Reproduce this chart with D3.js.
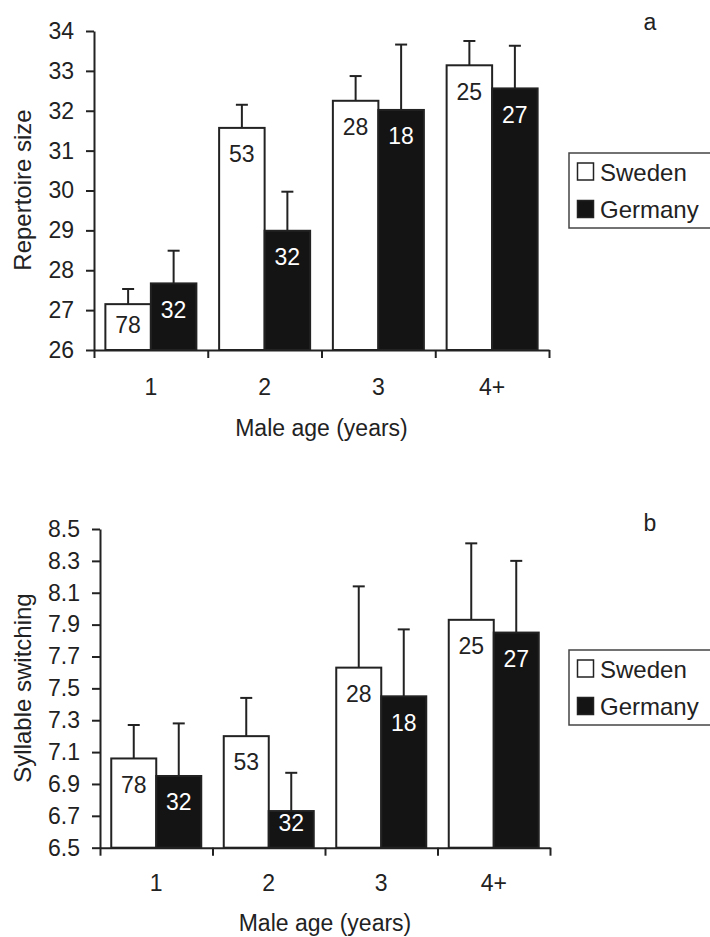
<!DOCTYPE html>
<html><head><meta charset="utf-8">
<script src="https://cdn.jsdelivr.net/npm/d3@7"></script>
<style>
body{margin:0;background:#fff}
svg{display:block}
text{font-family:"Liberation Sans",Arial,Helvetica,sans-serif;fill:#222}
</style>
</head><body>
<svg id="chart" width="710" height="937"></svg>
<script>
// ---------- data ----------
const categories = ["1", "2", "3", "4+"];
const seriesNames = ["Sweden", "Germany"];
const sampleSweden = [78, 53, 28, 25];
const sampleGermany = [32, 32, 18, 27];

// panel a: repertoire size
const repertoireSweden = [27.15, 31.57, 32.25, 33.14];
const repertoireSwedenErr = [0.38, 0.58, 0.62, 0.61];
const repertoireGermany = [27.67, 28.99, 32.02, 32.56];
const repertoireGermanyErr = [0.82, 0.98, 1.64, 1.07];
const repertoireTicks = [26, 27, 28, 29, 30, 31, 32, 33, 34];

// panel b: syllable switching
const switchingSweden = [7.06, 7.20, 7.63, 7.93];
const switchingSwedenErr = [0.21, 0.24, 0.51, 0.48];
const switchingGermany = [6.95, 6.73, 7.45, 7.85];
const switchingGermanyErr = [0.33, 0.24, 0.42, 0.45];
const switchingTicks = [6.5, 6.7, 6.9, 7.1, 7.3, 7.5, 7.7, 7.9, 8.1, 8.3, 8.5];

const xTitle = "Male age (years)";

// ---------- drawing ----------
const svg = d3.select("#chart");
svg.append("rect").attr("width", 710).attr("height", 937).attr("fill", "#fff");

const FS = 23;
const INK = "#222";

function panel(opt) {
  const g = svg.append("g");
  const y = d3.scaleLinear().domain(opt.domain).range([opt.bottom, opt.top]);
  const x = d3.scaleBand().domain(categories).range([opt.left, opt.right])
    .paddingInner(0.2).paddingOuter(0.1);
  const xs = d3.scaleBand().domain(seriesNames).range([0, x.bandwidth()]);
  const bounds = d3.scaleLinear().domain([0, categories.length]).range([opt.left, opt.right]);

  const rows = [];
  categories.forEach((c, i) => {
    rows.push({c, s: "Sweden", v: opt.sw[i], e: opt.swErr[i], n: sampleSweden[i]});
    rows.push({c, s: "Germany", v: opt.ge[i], e: opt.geErr[i], n: sampleGermany[i]});
  });

  // error bars (behind bars)
  const eb = g.append("g").attr("stroke", INK).attr("stroke-width", 2);
  rows.forEach(d => {
    const cx = x(d.c) + xs(d.s) + xs.bandwidth() / 2;
    eb.append("line").attr("x1", cx).attr("x2", cx).attr("y1", y(d.v)).attr("y2", y(d.v + d.e));
    eb.append("line").attr("x1", cx - 6).attr("x2", cx + 6).attr("y1", y(d.v + d.e)).attr("y2", y(d.v + d.e));
  });

  // bars
  g.append("g").selectAll("rect").data(rows).join("rect")
    .attr("x", d => x(d.c) + xs(d.s))
    .attr("y", d => y(d.v))
    .attr("width", xs.bandwidth())
    .attr("height", d => y(opt.domain[0]) - y(d.v))
    .attr("fill", d => d.s === "Sweden" ? "#fff" : "#141414")
    .attr("stroke", INK).attr("stroke-width", 2);

  // sample size labels
  g.append("g").selectAll("text").data(rows).join("text")
    .attr("x", d => x(d.c) + xs(d.s) + xs.bandwidth() / 2)
    .attr("y", d => Math.min(y(d.v) + 26, y(opt.domain[0]) - 25))
    .attr("dy", "0.36em")
    .attr("text-anchor", "middle")
    .attr("font-size", FS)
    .style("fill", d => d.s === "Sweden" ? INK : "#fff")
    .text(d => d.n);

  // y axis
  const ya = g.append("g").attr("transform", `translate(${opt.left},0)`)
    .call(d3.axisLeft(y).tickValues(opt.ticks).tickFormat(opt.fmt)
      .tickSize(8).tickPadding(12).tickSizeOuter(0));
  ya.selectAll("text").attr("font-size", FS).attr("font-family", null).style("fill", INK);
  ya.selectAll("line,path").attr("stroke", INK).attr("stroke-width", 2);

  // x axis: boundary ticks + category labels
  const xb = g.append("g").attr("transform", `translate(0,${opt.bottom})`)
    .call(d3.axisBottom(bounds).tickValues(d3.range(categories.length + 1))
      .tickFormat("").tickSize(8).tickSizeOuter(0));
  xb.selectAll("line,path").attr("stroke", INK).attr("stroke-width", 2);
  const xl = g.append("g").attr("transform", `translate(0,${opt.bottom})`)
    .call(d3.axisBottom(x).tickSize(0).tickPadding(opt.xPad));
  xl.select(".domain").remove();
  xl.selectAll("text").attr("font-size", FS).attr("font-family", null).style("fill", INK);

  // axis titles
  g.append("text").attr("x", (opt.left + opt.right) / 2).attr("y", opt.xTitleY)
    .attr("text-anchor", "middle").attr("font-size", FS).text(xTitle);
  g.append("text")
    .attr("transform", `translate(${opt.yTitleX},${opt.yTitleY}) rotate(-90)`)
    .attr("text-anchor", "middle").attr("font-size", FS + 1).text(opt.yTitle);

  // panel letter
  g.append("text").attr("x", 650).attr("y", opt.letterY).attr("text-anchor", "middle")
    .attr("font-size", FS).text(opt.letter);

  // legend
  const lg = g.append("g").attr("transform", `translate(569,${opt.legendY})`);
  lg.append("rect").attr("width", 160).attr("height", 75)
    .attr("fill", "#fff").attr("stroke", "#444").attr("stroke-width", 1.5);
  seriesNames.forEach((s, i) => {
    lg.append("rect").attr("x", 8.5).attr("y", 10 + i * 37.5).attr("width", 16).attr("height", 17)
      .attr("fill", s === "Sweden" ? "#fff" : "#141414").attr("stroke", INK).attr("stroke-width", 1.5);
    lg.append("text").attr("x", 31).attr("y", 19 + i * 37.5).attr("dy", "0.36em")
      .attr("font-size", FS + 1).text(s);
  });
}

panel({
  domain: [26, 34], top: 31, bottom: 350, left: 94, right: 549,
  sw: repertoireSweden, swErr: repertoireSwedenErr,
  ge: repertoireGermany, geErr: repertoireGermanyErr,
  ticks: repertoireTicks, fmt: d3.format("d"),
  xPad: 29, xTitleY: 436, yTitle: "Repertoire size", yTitleX: 31, yTitleY: 190,
  letter: "a", letterY: 30, legendY: 153
});

panel({
  domain: [6.5, 8.5], top: 529, bottom: 847.7, left: 100, right: 550,
  sw: switchingSweden, swErr: switchingSwedenErr,
  ge: switchingGermany, geErr: switchingGermanyErr,
  ticks: switchingTicks, fmt: d3.format(".1f"),
  xPad: 27, xTitleY: 931, yTitle: "Syllable switching", yTitleX: 31, yTitleY: 688,
  letter: "b", letterY: 531, legendY: 650
});
</script>
</body></html>
